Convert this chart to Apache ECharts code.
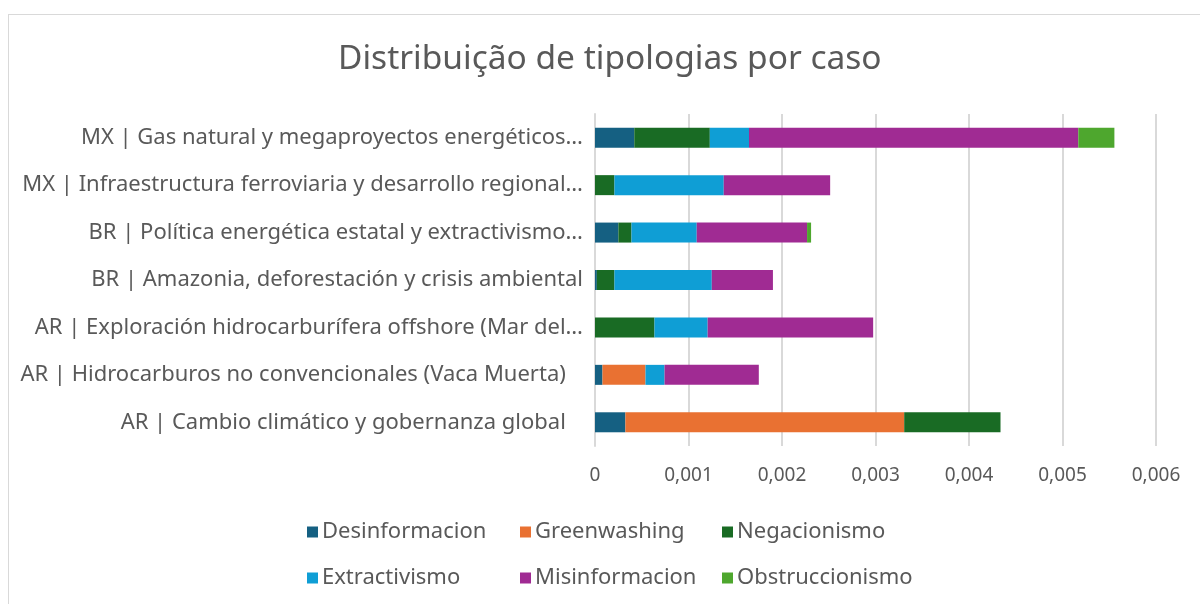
<!DOCTYPE html>
<html>
<head>
<meta charset="utf-8">
<script src="https://cdn.jsdelivr.net/npm/echarts@6/dist/echarts.min.js"></script>
<style>
    html, body { margin: 0; padding: 0; background: #fff; }
    #frame { position: absolute; left: 8px; top: 14px; width: 1200px; height: 600px; border: 1px solid #d9d9d9; }
    #chart { position: absolute; left: 0; top: 0; width: 1200px; height: 604px; }
</style>
</head>
<body>
<div id="frame"></div>
<div id="chart"></div>
<script>
// categories, bottom to top (as drawn by the y axis)
const casos = [
    "AR | Cambio climático y gobernanza global   ",
    "AR | Hidrocarburos no convencionales (Vaca Muerta)   ",
    "AR | Exploración hidrocarburífera offshore (Mar del…",
    "BR | Amazonia, deforestación y crisis ambiental",
    "BR | Política energética estatal y extractivismo…",
    "MX | Infraestructura ferroviaria y desarrollo regional…",
    "MX | Gas natural y megaproyectos energéticos…",
];

const desinformacion = [0.000325, 0.00008, 0, 0.00002, 0.00025, 0, 0.00042];
const greenwashing = [0.002982, 0.00046, 0, 0, 0, 0, 0];
const negacionismo = [0.00103, 0, 0.000636, 0.000188, 0.00014, 0.000208, 0.000808];
const extractivismo = [0, 0.000204, 0.000569, 0.001041, 0.000698, 0.001169, 0.000419];
const misinformacion = [0, 0.001008, 0.00177, 0.000654, 0.00118, 0.001138, 0.003522];
const obstruccionismo = [0, 0, 0, 0, 0.000043, 0, 0.000386];

const xTicks = ["0", "0,001", "0,002", "0,003", "0,004", "0,005", "0,006"];

const seriesDefs = [
    { name: "Desinformacion", data: desinformacion, color: "#156082" },
    { name: "Greenwashing", data: greenwashing, color: "#E97132" },
    { name: "Negacionismo", data: negacionismo, color: "#196B24" },
    { name: "Extractivismo", data: extractivismo, color: "#0F9ED5" },
    { name: "Misinformacion", data: misinformacion, color: "#A02B93" },
    { name: "Obstruccionismo", data: obstruccionismo, color: "#4EA72E" },
];

const font = "'Noto Sans', sans-serif";
const textColor = "#595959";

const chart = echarts.init(document.getElementById("chart"), null, { renderer: "canvas" });

// one legend per item so the columns line up like the original
const legendPos = [
    [307, 521], [520, 521], [722, 521],
    [307, 567], [520, 567], [722, 567],
];
const legends = seriesDefs.map((s, i) => ({
    data: [s.name],
    left: legendPos[i][0],
    top: legendPos[i][1],
    itemWidth: 11,
    itemHeight: 11,
    itemGap: 0,
    padding: 0,
    icon: "rect",
    textStyle: { color: textColor, fontSize: 22, fontFamily: font, padding: [0, 0, 0, -1] },
    selectedMode: false,
}));

const option = {
    animation: false,
    backgroundColor: "transparent",
    title: {
        text: "Distribuição de tipologias por caso",
        left: 333,
        top: 37,
        textStyle: { color: textColor, fontSize: 33.5, fontWeight: "normal", fontFamily: font },
    },
    legend: legends,
    grid: { left: 595, right: 44, top: 114, bottom: 158, containLabel: false },
    xAxis: {
        type: "value",
        min: 0,
        max: 0.006,
        interval: 0.001,
        axisLine: { show: false },
        axisTick: { show: false },
        splitLine: { lineStyle: { color: "#d9d9d9", width: 2 } },
        axisLabel: {
            color: textColor,
            fontSize: 19,
            fontFamily: font,
            margin: 20,
            formatter: (v) => xTicks[Math.round(v * 1000)],
        },
    },
    yAxis: {
        type: "category",
        data: casos,
        axisLine: { show: true, lineStyle: { color: "#d9d9d9", width: 2 } },
        axisTick: { show: false },
        axisLabel: { color: textColor, fontSize: 22, fontFamily: font, margin: 12 },
    },
    series: seriesDefs.map((s) => ({
        name: s.name,
        type: "bar",
        stack: "total",
        barWidth: 20,
        data: s.data,
        itemStyle: { color: s.color },
    })),
};

chart.setOption(option);
</script>
</body>
</html>
